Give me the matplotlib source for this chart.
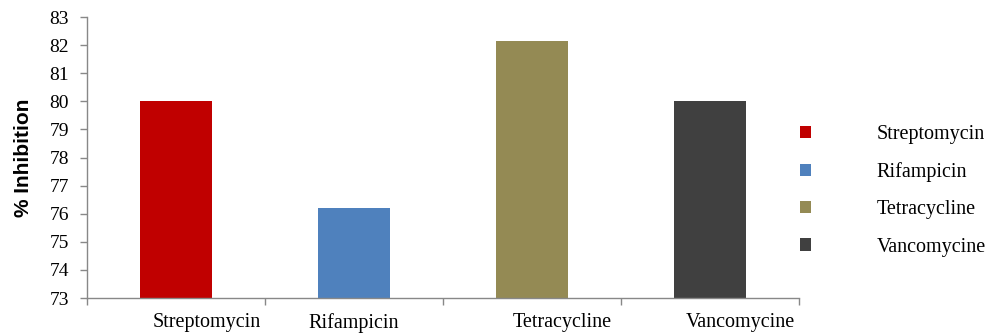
import matplotlib.pyplot as plt
import numpy as np

# data
drugs = ['Streptomycin', 'Rifampicin', 'Tetracycline', 'Vancomycine']
inhibition = [80.0, 76.2, 82.15, 80.0]
colors = ['#C00000', '#4F81BD', '#948A54', '#404040']
yticks = list(range(73, 84))
label_shift = [0.17, 0.0, 0.17, 0.17]   # tick label offsets as in the original

fig = plt.figure(figsize=(9.9, 3.35), dpi=100)
ax = fig.add_axes([0.0879, 0.1104, 0.7192, 0.8386])

x = np.arange(len(drugs))
bars = ax.bar(x, inhibition, width=0.405, color=colors, bottom=0, label=drugs)

ax.set_ylim(73, 83)
ax.set_xlim(-0.5, len(drugs) - 0.5)
ax.set_yticks(yticks)
ax.set_yticklabels([str(t) for t in yticks], family='Liberation Serif', fontsize=14)

# category boundary ticks on the x-axis, labels drawn as text
ax.set_xticks(np.arange(-0.5, len(drugs)))
ax.set_xticklabels([])
for i, name in enumerate(drugs):
    ax.text(i + label_shift[i], -0.055, name, transform=ax.get_xaxis_transform(),
            ha='center', va='top', family='Liberation Serif', fontsize=14.5)

for s in ['top', 'right']:
    ax.spines[s].set_visible(False)
for s in ['left', 'bottom']:
    ax.spines[s].set_color('#888888')
    ax.spines[s].set_linewidth(1.0)
ax.tick_params(axis='both', colors='#888888', length=5, width=1.0, labelcolor='black')
ax.tick_params(axis='y', pad=8)

ax.set_ylabel('% Inhibition', family='Liberation Sans', fontweight='bold', fontsize=15, labelpad=12)

# legend on the right
fig.legend(bars, drugs, loc='center left', bbox_to_anchor=(0.808, 0.43),
           frameon=False, borderpad=0, borderaxespad=0,
           handlelength=0.55, handleheight=0.55,
           handletextpad=3.25, labelspacing=0.9,
           prop={'family': 'Liberation Serif', 'size': 14.5})

fig.savefig('out.png', dpi=100)
